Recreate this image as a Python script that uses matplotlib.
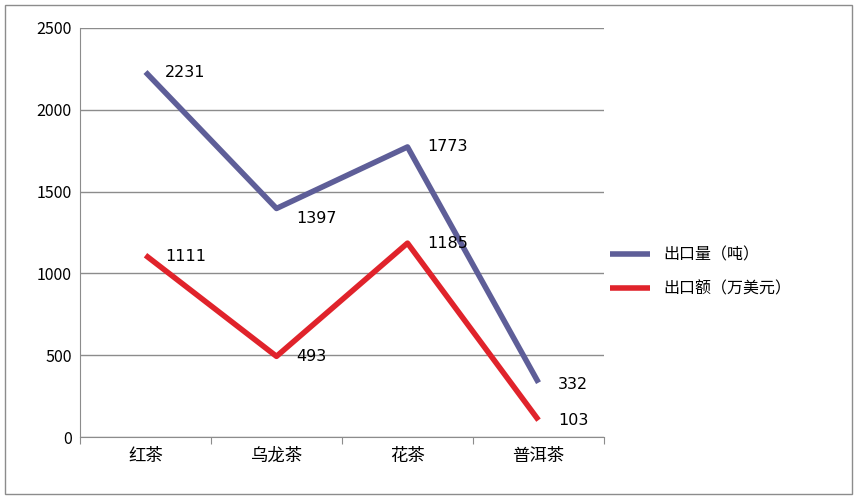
import matplotlib
matplotlib.use("Agg")
import matplotlib.pyplot as plt
from matplotlib.patches import Rectangle

plt.rcParams['font.family'] = ['Noto Sans CJK SC', 'DejaVu Sans']

categories = ["红茶", "乌龙茶", "花茶", "普洱茶"]
volume = [2231, 1397, 1773, 332]
value = [1111, 493, 1185, 103]
series_names = ["出口量（吨）", "出口额（万美元）"]
colors = ["#5e5e98", "#e0232b"]

fig = plt.figure(figsize=(8.57, 4.99), dpi=100)
fig.patches.append(Rectangle((0.006, 0.01), 0.988, 0.98, transform=fig.transFigure,
                             fill=False, edgecolor="#8c8c8c", linewidth=1))
ax = fig.add_axes([80/857, 62/499, 524/857, 409/499])
x = [0.5, 1.5, 2.5, 3.5]
ax.plot(x, volume, color=colors[0], lw=4, label=series_names[0], solid_capstyle='butt')
ax.plot(x, value, color=colors[1], lw=4, label=series_names[1], solid_capstyle='butt')

offs_v = [(14, 0), (14, -2), (14, 0), (14, -1)]
offs_r = [(14, -1), (14, 0), (14, 0), (14, 0)]
for xi, v, o in zip(x, volume, offs_v):
    ax.annotate(str(v), (xi, v), xytext=o, textcoords="offset points", fontsize=11.5,
                va="top" if xi in (1.5,) else "center", ha="left", family="DejaVu Sans")
for xi, v, o in zip(x, value, offs_r):
    ax.annotate(str(v), (xi, v), xytext=o, textcoords="offset points", fontsize=11.5,
                va="center", ha="left", family="DejaVu Sans")

ax.set_xlim(0, 4)
ax.set_ylim(0, 2500)
ax.set_yticks(range(0, 2501, 500))
ax.grid(axis="y", color="#8c8c8c", lw=1)
ax.set_axisbelow(True)
ax.set_xticks([0, 1, 2, 3, 4])
ax.set_xticklabels([])
ax.set_xticks(x, minor=True)
ax.set_xticklabels(categories, minor=True, fontsize=12.5)
ax.tick_params(axis="x", which="minor", length=0, pad=7)
ax.tick_params(axis="x", which="major", length=5, color="#8c8c8c")
ax.tick_params(axis="y", length=0, labelsize=11.5, pad=6)
for s in ["top", "right"]:
    ax.spines[s].set_visible(False)
for s in ["left", "bottom"]:
    ax.spines[s].set_color("#8c8c8c")

fig.legend(loc="upper left", bbox_to_anchor=(596/857, 1 - 232/499), frameon=False,
           fontsize=11.5, handlelength=2.5, labelspacing=1.1)
fig.savefig("out.png", dpi=100)
